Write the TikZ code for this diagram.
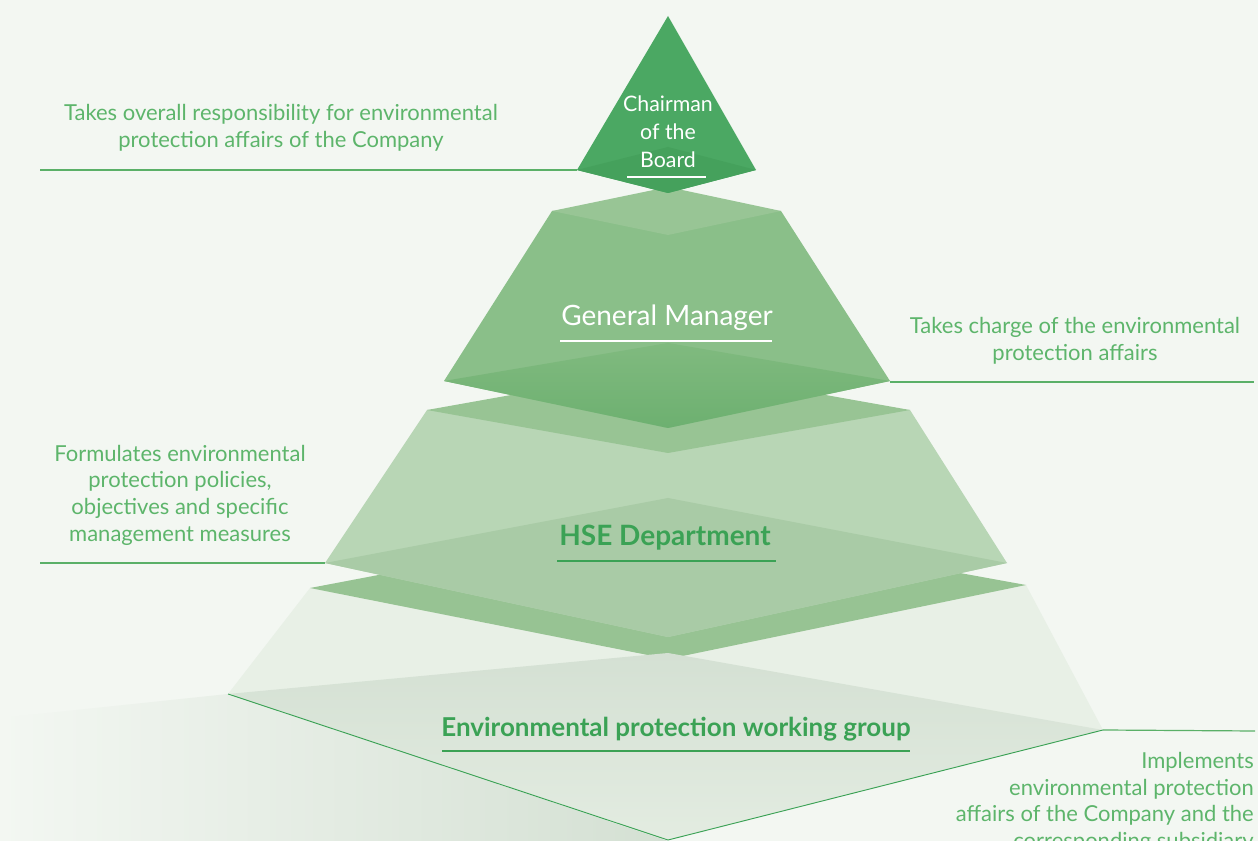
\documentclass[tikz,border=0pt]{standalone}
\usepackage{fontspec}
\setmainfont{Lato}
\usepackage{xcolor}
\usetikzlibrary{positioning,calc}

\definecolor{bgpale}{HTML}{F3F7F2}
\definecolor{notegreen}{HTML}{5DB56B}
\definecolor{headgreen}{HTML}{3BA255}
\definecolor{leadgreen}{HTML}{5AB068}
\definecolor{chairface}{HTML}{4BA863}
\definecolor{chairbase}{HTML}{45A15C}
\definecolor{gmtop}{HTML}{98C595}
\definecolor{gmbody}{HTML}{8ABF89}
\definecolor{gmbaseA}{HTML}{80BA7F}
\definecolor{gmbaseB}{HTML}{6DB070}
\definecolor{hsetop}{HTML}{98C494}
\definecolor{hsebody}{HTML}{B8D6B5}
\definecolor{hsebase}{HTML}{A9CBA6}
\definecolor{grptop}{HTML}{97C393}
\definecolor{grpbody}{HTML}{E8F0E6}
\definecolor{grpbaseA}{HTML}{D4E0D3}
\definecolor{grpbaseB}{HTML}{E3ECE1}

\begin{document}
\begin{tikzpicture}[x=0.75pt,y=-0.75pt,
    note/.style={text=notegreen, font=\fontsize{16.5}{20}\selectfont, align=center, inner sep=0pt},
    lead/.style={draw=leadgreen, line width=0.9pt},
    title/.style={font=\fontsize{21}{24}\selectfont, inner sep=0pt}]
    \fill[bgpale] (0,0) rectangle (1258,841);
    \useasboundingbox (0,0) rectangle (1258,841);

    % shadow at the bottom left
    \shade[left color=bgpale, right color=grpbaseA] (0,718) -- (228,694) -- (668,841) -- (0,841) -- cycle;

    % Working group layer (bottom)
    \fill[grpbody] (310,588) -- (1026,585) -- (1103,730) -- (668,840) -- (228,694) -- cycle;
    \fill[grptop] (310,588) -- (668,520) -- (1026,585) -- (668,659) -- cycle;
    \shade[top color=grpbaseA, bottom color=grpbaseB] (228,694) -- (668,653) -- (1103,730) -- (668,840) -- cycle;
    \coordinate (grpL) at (228,694);
    \coordinate (grpR) at (1103,730);
    \coordinate (grpF) at (668,840);
    \draw[draw=headgreen, line width=0.7pt] (grpL) -- (grpF) -- (grpR);

    % HSE layer
    \fill[hsebody] (427,410) -- (910,410) -- (1007,563) -- (668,637) -- (325,563) -- cycle;
    \fill[hsetop] (427,410) -- (668,367) -- (910,410) -- (668,453) -- cycle;
    \fill[hsebase] (325,563) -- (668,498) -- (1007,563) -- (668,637) -- cycle;
    \coordinate (hseL) at (325,563);

    % General Manager layer
    \fill[gmbody] (552,211) -- (781,211) -- (890,381) -- (668,428) -- (444,381) -- cycle;
    \fill[gmtop] (552,211) -- (668,187) -- (781,211) -- (668,235) -- cycle;
    \shade[top color=gmbaseA, bottom color=gmbaseB] (444,381) -- (668,343) -- (890,381) -- (668,428) -- cycle;
    \coordinate (gmR) at (890,382);

    % Chairman (top)
    \fill[chairface] (668,16) -- (756,170) -- (668,193) -- (577,170) -- cycle;
    \fill[chairbase] (577,170) -- (668,147) -- (756,170) -- (668,193) -- cycle;
    \coordinate (chairL) at (577,170);

    % Labels in the pyramid
    \node[title, text=white, align=center, font=\fontsize{16}{21}\selectfont] (chair) at (668,132) {Chairman\\of the\\Board};
    \draw[white, line width=1.1pt] (627,177) -- (706,177);
    \node[title, text=white] (gm) at (667,318) {General Manager};
    \draw[white, line width=1.1pt] (560,341) -- (772,341);
    \node[title, text=headgreen, font=\fontsize{21}{24}\selectfont\bfseries] (hse) at (665,538) {HSE Department};
    \draw[headgreen, line width=1.1pt] (557,561) -- (776,561);
    \node[title, text=headgreen, font=\fontsize{19.5}{22}\selectfont\bfseries] (grp) at (676,729) {Environmental protection working group};
    \draw[headgreen, line width=1.1pt] (442,751) -- (910,751);

    % Notes and leader lines
    \node[note] (noteA) at (281,128) {Takes overall responsibility for environmental\\protection affairs of the Company};
    \coordinate (endA) at (40,170);
    \draw[lead] (chairL) -- (endA);
    \node[note] (noteB) at (1075,341) {Takes charge of the environmental\\protection affairs};
    \coordinate (endB) at (1254,382);
    \draw[lead] (gmR) -- (endB);
    \node[note] (noteC) at (180,495) {Formulates environmental\\protection policies,\\objectives and specific\\management measures};
    \coordinate (endC) at (40,563);
    \draw[lead] (hseL) -- (endC);
    \node[note, align=right, anchor=north east] (noteD) at (1254,752) {Implements\\environmental protection\\affairs of the Company and the\\corresponding subsidiary};
    \coordinate (endD) at (1255,731);
    \draw[lead] (grpR) -- (endD);
\end{tikzpicture}
\end{document}
